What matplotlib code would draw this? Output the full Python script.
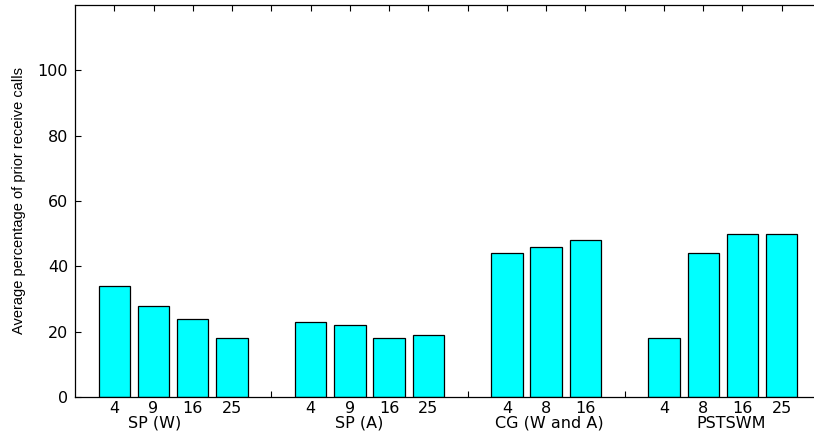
import matplotlib
matplotlib.use("Agg")
import matplotlib.pyplot as plt
from matplotlib.transforms import blended_transform_factory

plt.rcParams["savefig.bbox"] = "standard"

# Benchmark groups and per-processor-count results
groups = ["SP (W)", "SP (A)", "CG (W and A)", "PSTSWM"]
proc_counts = [
    ["4", "9", "16", "25"],
    ["4", "9", "16", "25"],
    ["4", "8", "16"],
    ["4", "8", "16", "25"],
]
sp_w = [34, 28, 24, 18]
sp_a = [23, 22, 18, 19]
cg_wa = [44, 46, 48]
pstswm = [18, 44, 50, 50]
series = [sp_w, sp_a, cg_wa, pstswm]

# Lay the groups out on one axis with an empty slot between groups
positions, heights, tick_labels = [], [], []
pos = 1
for gi, (vals, labs) in enumerate(zip(series, proc_counts)):
    for v, lab in zip(vals, labs):
        positions.append(pos)
        heights.append(v)
        tick_labels.append(lab)
        pos += 1
    if gi < len(series) - 1:
        tick_labels.append("")
        pos += 1
all_ticks = list(range(1, pos))
# group caption positions along the category axis
caption_x = [2.02, 7.23, 12.08, 16.72]

W, H = 814, 434
fig = plt.figure(figsize=(W / 100, H / 100), dpi=100)
ax_left, ax_right, ax_top, ax_bottom = 75, 821, 5, 397
ax = fig.add_axes([ax_left / W, 1 - ax_bottom / H,
                   (ax_right - ax_left) / W, (ax_bottom - ax_top) / H])

ax.bar(positions, heights, width=0.8, color="#00ffff",
       edgecolor="black", linewidth=0.9)

ax.set_xlim(0, 19)
ax.set_ylim(0, 120)
ax.set_axisbelow(True)

ax.set_xticks(all_ticks)
ax.set_xticklabels(tick_labels, fontsize=11.5, family="DejaVu Sans")
ax.set_yticks([0, 20, 40, 60, 80, 100])
ax.set_yticklabels(["0", "20", "40", "60", "80", "100"],
                   fontsize=11.5, family="DejaVu Sans")
ax.tick_params(axis="both", direction="in", length=4.5, width=0.8,
               top=True, right=False, color="black")
ax.tick_params(axis="x", pad=3)
ax.tick_params(axis="y", pad=5)

for s in ax.spines.values():
    s.set_linewidth(0.9)
ax.spines["right"].set_visible(False)

trans = blended_transform_factory(ax.transData, ax.transAxes)
for name, cx in zip(groups, caption_x):
    ax.text(cx, -(423 - 397) / (ax_bottom - ax_top), name, transform=trans,
            ha="center", va="center", fontsize=11.5, family="DejaVu Sans")

ax.set_ylabel("Average percentage of prior receive calls",
              fontsize=10.5, family=["Liberation Sans Narrow", "Liberation Sans"],
              va="center")
ax.yaxis.set_label_coords((18.5 - ax_left) / (ax_right - ax_left), 0.5)

fig.savefig("out.png", dpi=100)
